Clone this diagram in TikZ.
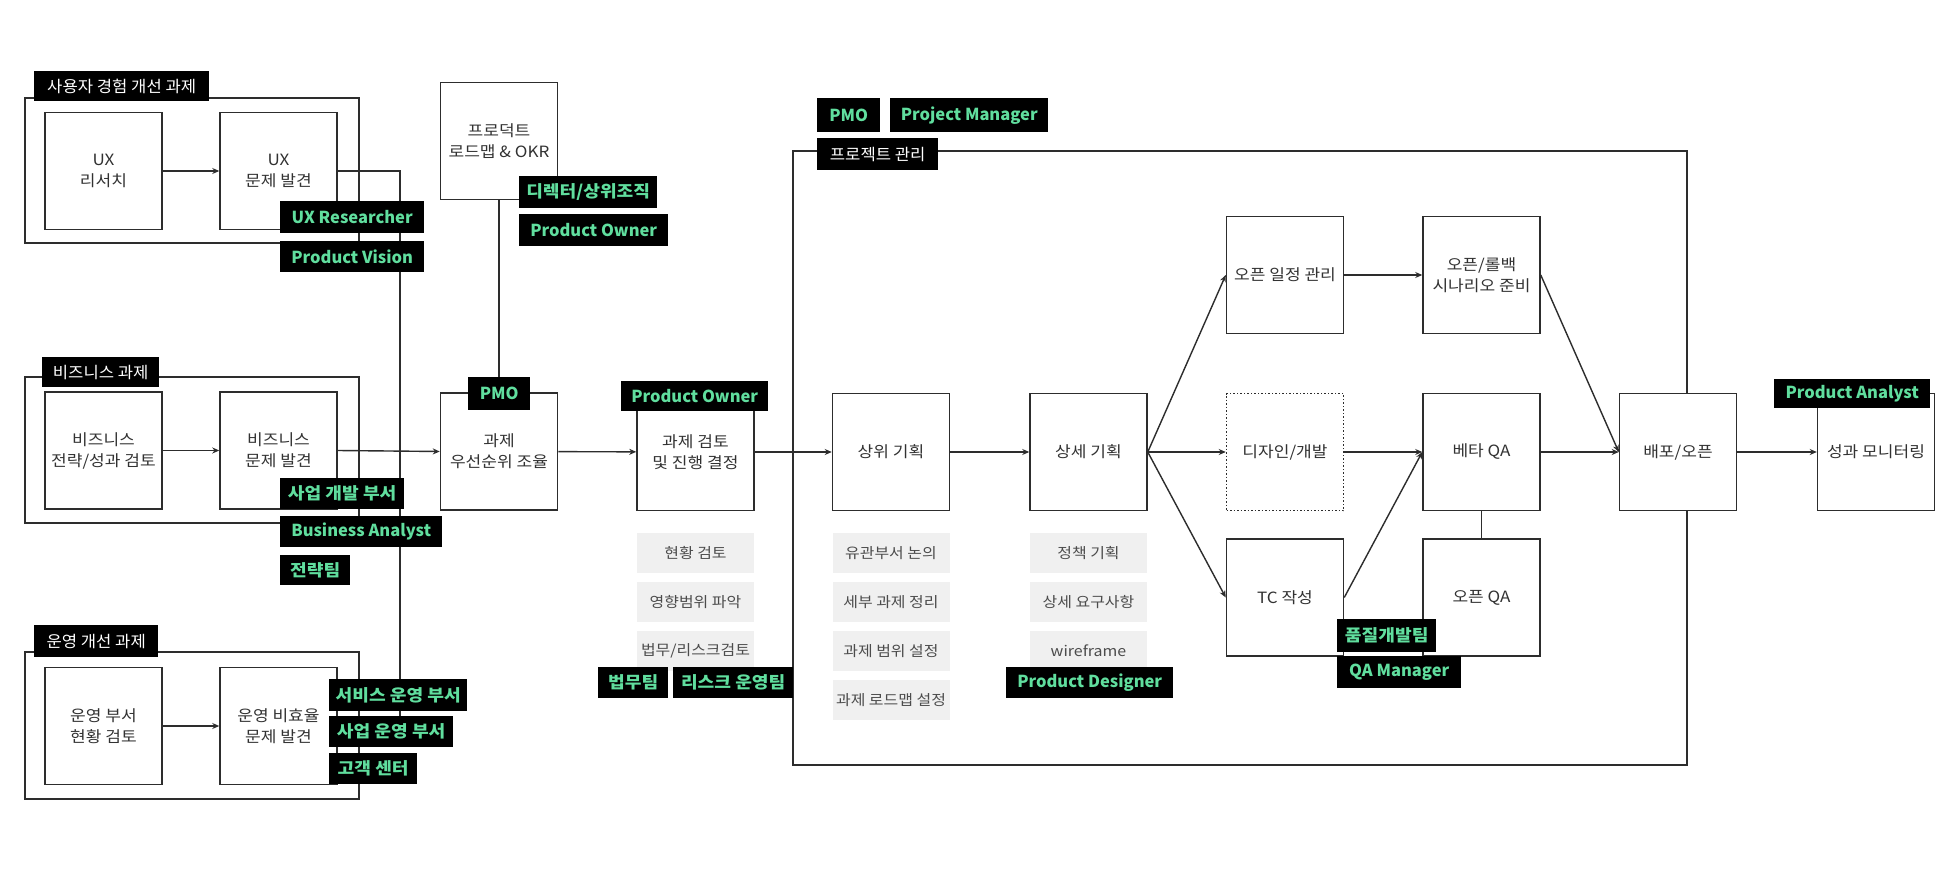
\documentclass[tikz,border=0pt]{standalone}
\usepackage{fontspec}
\setmainfont{Noto Sans CJK KR}[FakeStretch=1.1]
\newfontfamily\latf{Noto Sans CJK KR}
\newfontfamily\grpf{Noto Sans CJK KR}[FakeStretch=1.04]
\usetikzlibrary{arrows.meta}
\definecolor{tagg}{RGB}{96,222,158}
\definecolor{ln}{RGB}{45,45,45}
\definecolor{txt}{RGB}{50,50,50}
\definecolor{gbox}{RGB}{240,240,240}
\begin{document}
\begin{tikzpicture}[x=1pt,y=-1pt,
  box/.style={draw=ln, line width=1.5pt, fill=white, minimum width=117pt, minimum height=117pt,
    align=center, text=txt, font=\fontsize{15.5}{21}\selectfont, inner sep=2pt},
  dotbox/.style={box, dotted},
  gray/.style={fill=gbox, minimum width=117pt, minimum height=40pt, text=black!70,
    font=\fontsize{14.5}{18}\selectfont, inner sep=0pt},
  tag/.style={fill=black, text=tagg, font=\fontsize{16.5}{20}\selectfont\bfseries,
    inner sep=0pt, anchor=north west},
  tagl/.style={tag, font=\fontsize{16.5}{20}\selectfont\latf\bfseries},
  grp/.style={fill=black, text=white, font=\fontsize{16}{20}\selectfont\grpf,
    inner sep=0pt, anchor=north west},
  frame/.style={draw=ln, line width=1.5pt},
  conn/.style={draw=ln, line width=1.4pt},
  arr/.style={conn, -{Stealth[length=7pt,width=6pt]}}
]
\useasboundingbox[fill=white] (0,0) rectangle (1959,882);

% group frames
\draw[frame] (25,98) rectangle (359,243);
\draw[frame] (25,377) rectangle (359,523);
\draw[frame] (25,652) rectangle (359,799);
\draw[frame] (793,151) rectangle (1687,765);

% boxes
\node[box] (ux1) at (103.5,171) {UX\\리서치};
\node[box] (ux2) at (278.5,171) {UX\\문제 발견};
\node[box] (bz1) at (103.5,450.5) {비즈니스\\전략/성과 검토};
\node[box] (bz2) at (278.5,450.5) {비즈니스\\문제 발견};
\node[box] (op1) at (103.5,726) {운영 부서\\현황 검토};
\node[box] (op2) at (278.5,726) {운영 비효율\\문제 발견};
\node[box] (road) at (499,141) {프로덕트\\로드맵 \& OKR};
\node[box] (prio) at (499,451.5) {과제\\우선순위 조율};
\node[box] (rev) at (695.5,452) {과제 검토\\및 진행 결정};
\node[box] (upper) at (891,452) {상위 기획};
\node[box] (detail) at (1088.5,452) {상세 기획};
\node[box] (plan) at (1285,275) {오픈 일정 관리};
\node[box] (roll) at (1481.5,275) {오픈/롤백\\시나리오 준비};
\node[dotbox] (dev) at (1285,452) {디자인/개발};
\node[box] (tc) at (1285,597.5) {TC 작성};
\node[box] (beta) at (1481.5,452) {베타 QA};
\node[box] (oqa) at (1481.5,597.5) {오픈 QA};
\node[box] (dep) at (1678,452) {배포/오픈};
\node[box] (mon) at (1876,452) {성과 모니터링};

% gray detail boxes
\node[gray] (g11) at (695.5,553) {현황 검토};
\node[gray] (g12) at (695.5,602) {영향범위 파악};
\node[gray] (g13) at (695.5,651) {법무/리스크검토};
\node[gray] (g21) at (891,553) {유관부서 논의};
\node[gray] (g22) at (891,602) {세부 과제 정리};
\node[gray] (g23) at (891,651) {과제 범위 설정};
\node[gray] (g24) at (891,700) {과제 로드맵 설정};
\node[gray] (g31) at (1088.5,553) {정책 기획};
\node[gray] (g32) at (1088.5,602) {상세 요구사항};
\node[gray] (g33) at (1088.5,651) {wireframe};

% connectors
\coordinate (jn) at (400,450.5);
\draw[arr] (ux1) -- (ux2);
\draw[arr] (bz1) -- (bz2);
\draw[arr] (op1) -- (op2);
\draw[conn] (ux2.east) -| (jn);
\draw[conn] (op2.east) -| (jn);
\draw[arr] (bz2.east) -- (prio.west);
\draw[conn] (road.south) -- (prio.north);
\draw[arr] (prio) -- (rev);
\draw[arr] (rev) -- (upper);
\draw[arr] (upper) -- (detail);
\draw[arr] (detail.east) -- (plan.west);
\draw[arr] (detail.east) -- (dev.west);
\draw[arr] (detail.east) -- (tc.west);
\draw[arr] (plan) -- (roll);
\draw[arr] (dev) -- (beta);
\draw[arr] (tc.east) -- (beta.west);
\draw[arr] (roll.east) -- (dep.west);
\draw[arr] (beta) -- (dep);
\draw[arr] (dep) -- (mon);
\draw[conn] (beta.south) -- (oqa.north);

% group labels
\node[grp, minimum width=175pt, minimum height=30pt] (gl1) at (34,71) {사용자 경험 개선 과제};
\node[grp, minimum width=117pt, minimum height=30pt] (gl2) at (42,357) {비즈니스 과제};
\node[grp, minimum width=124pt, minimum height=32pt] (gl3) at (34,625) {운영 개선 과제};
\node[grp, minimum width=121pt, minimum height=32pt] (gl4) at (817,138) {프로젝트 관리};

% role tags
\node[tagl, minimum width=144pt, minimum height=32pt] (t1) at (280,201) {UX Researcher};
\node[tagl, minimum width=144pt, minimum height=31pt] (t2) at (280,241) {Product Vision};
\node[tag, minimum width=138pt, minimum height=32pt] (t3) at (519,176) {디렉터/상위조직};
\node[tagl, minimum width=149pt, minimum height=32pt] (t4) at (519,214) {Product Owner};
\node[tagl, minimum width=62pt, minimum height=33pt] (t5) at (468,377) {PMO};
\node[tag, minimum width=124pt, minimum height=31pt] (t6) at (280,478) {사업 개발 부서};
\node[tagl, minimum width=162pt, minimum height=31pt] (t7) at (280,516) {Business Analyst};
\node[tag, minimum width=70pt, minimum height=30pt] (t8) at (280,555) {전략팀};
\node[tag, minimum width=138pt, minimum height=32pt] (t9) at (329,679) {서비스 운영 부서};
\node[tag, minimum width=124pt, minimum height=31pt] (t10) at (329,716) {사업 운영 부서};
\node[tag, minimum width=88pt, minimum height=31pt] (t11) at (329,753) {고객 센터};
\node[tagl, minimum width=147pt, minimum height=30pt] (t12) at (621,381) {Product Owner};
\node[tag, minimum width=70pt, minimum height=31pt] (t13) at (598,667) {법무팀};
\node[tag, minimum width=120pt, minimum height=31pt] (t14) at (673,667) {리스크 운영팀};
\node[tagl, minimum width=63pt, minimum height=34pt] (t15) at (817,98) {PMO};
\node[tagl, minimum width=158pt, minimum height=34pt] (t16) at (890,98) {Project Manager};
\node[tagl, minimum width=167pt, minimum height=31pt] (t17) at (1006,667) {Product Designer};
\node[tag, minimum width=99pt, minimum height=33pt] (t18) at (1337,619) {품질개발팀};
\node[tagl, minimum width=124pt, minimum height=32pt] (t19) at (1337,656) {QA Manager};
\node[tagl, minimum width=156pt, minimum height=29pt] (t20) at (1774,379) {Product Analyst};
\end{tikzpicture}
\end{document}
